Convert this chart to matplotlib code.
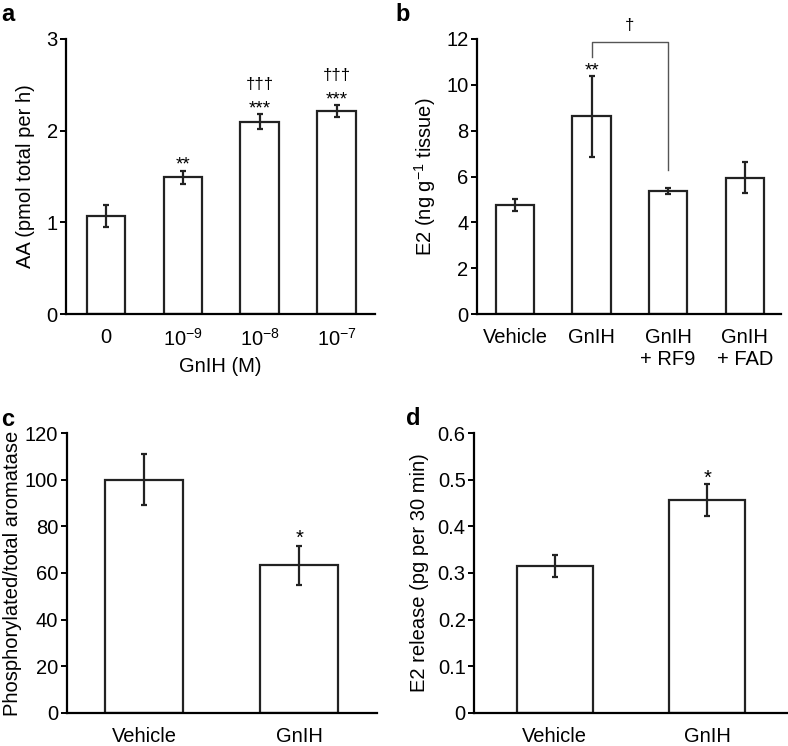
import matplotlib
matplotlib.use('Agg')
import matplotlib.pyplot as plt

plt.rcParams['font.family'] = ['Liberation Sans', 'DejaVu Sans']
plt.rcParams['mathtext.fontset'] = 'custom'
plt.rcParams['mathtext.rm'] = 'Liberation Sans'
plt.rcParams['mathtext.it'] = 'Liberation Sans:italic'

# panel a
a_labels = ['0', r'$\mathregular{10^{-9}}$', r'$\mathregular{10^{-8}}$', r'$\mathregular{10^{-7}}$']
a_vals = [1.07, 1.49, 2.10, 2.21]
a_err = [0.12, 0.075, 0.08, 0.065]
a_marks = ['', '**', '***', '***']
a_dagger = ['', '', '\u2020\u2020\u2020', '\u2020\u2020\u2020']

# panel b
b_labels = ['Vehicle', 'GnIH', 'GnIH\n+ RF9', 'GnIH\n+ FAD']
b_vals = [4.77, 8.62, 5.38, 5.94]
b_err = [0.26, 1.75, 0.14, 0.68]

# panel c
c_labels = ['Vehicle', 'GnIH']
c_vals = [100, 63.3]
c_err = [11, 8.3]

# panel d
d_labels = ['Vehicle', 'GnIH']
d_vals = [0.315, 0.457]
d_err = [0.024, 0.034]

fs = 14.5
W, H = 788, 746
fig = plt.figure(figsize=(W / 100, H / 100), dpi=100)


def make_ax(l, r, t, b):
    return fig.add_axes([l / W, 1 - b / H, (r - l) / W, (b - t) / H])


def style(ax):
    for s in ['top', 'right']:
        ax.spines[s].set_visible(False)
    for s in ['left', 'bottom']:
        ax.spines[s].set_linewidth(1.6)
    ax.tick_params(axis='y', direction='out', length=4, width=1.4, labelsize=fs, pad=2)
    ax.tick_params(axis='x', length=0, labelsize=fs, pad=10)


def bars(ax, vals, err, labels):
    x = list(range(len(vals)))
    ax.bar(x, vals, width=0.5, color='white', edgecolor='#222222', linewidth=1.6, zorder=2)
    ax.errorbar(x, vals, yerr=err, fmt='none', ecolor='#222222', elinewidth=1.6,
                capsize=2.5, capthick=1.6, zorder=3)
    ax.set_xticks(x)
    ax.set_xticklabels(labels)
    return x


ax = make_ax(66, 375, 39, 314)
x = bars(ax, a_vals, a_err, a_labels)
ax.set_xlim(-0.52, 3.5)
ax.set_ylim(0, 3)
ax.set_yticks([0, 1, 2, 3])
ax.set_ylabel('AA (pmol total per h)', fontsize=fs, labelpad=8)
ax.set_xlabel('GnIH (M)', fontsize=fs, labelpad=5)
for i in x:
    top = a_vals[i] + a_err[i]
    if a_marks[i]:
        ax.text(i, top + 0.01, a_marks[i], ha='center', va='baseline', fontsize=13.5)
    if a_dagger[i]:
        ax.text(i, top + 0.28, a_dagger[i], ha='center', va='baseline', fontsize=12)
style(ax)
fig.text(1 / W, 1 - 3 / H, 'a', fontsize=17, fontweight='bold', va='top')

ax = make_ax(476.7, 780.7, 39, 314)
x = bars(ax, b_vals, b_err, b_labels)
ax.set_xlim(-0.5, 3.47)
ax.set_ylim(0, 12)
ax.set_yticks(range(0, 13, 2))
ax.set_ylabel(r'E2 (ng g$^{-1}$ tissue)', fontsize=fs, labelpad=6)
ax.text(1, b_vals[1] + b_err[1] + 0.05, '**', ha='center', va='baseline', fontsize=13.5)
ax.plot([1, 1, 2, 2], [11.2, 11.85, 11.85, 6.3], color='#555555', lw=1.0, clip_on=False)
ax.text(1.5, 12.4, '\u2020', ha='center', va='baseline', fontsize=12, clip_on=False)
style(ax)
fig.text(395 / W, 1 - 3 / H, 'b', fontsize=17, fontweight='bold', va='top')

ax = make_ax(66.7, 376.7, 433.3, 712.7)
x = bars(ax, c_vals, c_err, c_labels)
ax.set_xlim(-0.5, 1.5)
ax.set_ylim(0, 120)
ax.set_yticks(range(0, 121, 20))
ax.set_ylabel('Phosphorylated/total aromatase', fontsize=fs, labelpad=2)
ax.text(1, c_vals[1] + c_err[1] + 1, '*', ha='center', va='baseline', fontsize=14.5)
style(ax)
fig.text(1 / W, 1 - 408 / H, 'c', fontsize=17, fontweight='bold', va='top')

ax = make_ax(474, 788, 433.3, 712.7)
x = bars(ax, d_vals, d_err, d_labels)
ax.set_xlim(-0.53, 1.53)
ax.set_ylim(0, 0.6)
ax.set_yticks([0, 0.1, 0.2, 0.3, 0.4, 0.5, 0.6])
ax.set_yticklabels(['0', '0.1', '0.2', '0.3', '0.4', '0.5', '0.6'])
ax.set_ylabel('E2 release (pg per 30 min)', fontsize=fs, labelpad=6)
ax.text(1, d_vals[1] + d_err[1], '*', ha='center', va='baseline', fontsize=14.5)
style(ax)
fig.text(406 / W, 1 - 407 / H, 'd', fontsize=17, fontweight='bold', va='top')

fig.savefig('out.png', dpi=100, facecolor='white')
